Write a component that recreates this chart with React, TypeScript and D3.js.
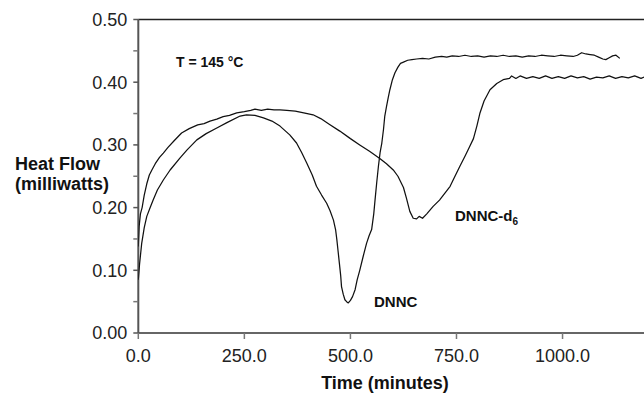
import * as d3 from "d3";

// DSC traces: [time (min), heat flow (mW)]
const dnnc: [number, number][] = [
  [0, 0.085], [3, 0.11], [8, 0.143], [14, 0.168], [20, 0.186], [28, 0.2], [35, 0.212],
  [45, 0.228], [59, 0.244], [75, 0.26], [98, 0.279], [115, 0.292], [138, 0.308],
  [160, 0.318], [185, 0.327], [210, 0.336], [240, 0.346], [255, 0.348], [275, 0.347],
  [295, 0.343], [315, 0.338], [334, 0.33], [357, 0.316], [373, 0.303], [385, 0.288],
  [397, 0.271], [410, 0.252], [420, 0.234], [432, 0.22], [444, 0.207], [452, 0.195],
  [460, 0.18], [465, 0.165], [468, 0.149], [471, 0.13], [474, 0.111], [477, 0.092],
  [479, 0.074], [483, 0.062], [487, 0.053], [491, 0.05], [495, 0.048], [500, 0.052],
  [505, 0.058], [511, 0.069], [516, 0.085], [522, 0.1], [530, 0.122], [538, 0.143],
  [544, 0.155], [550, 0.165], [555, 0.19], [558, 0.212], [562, 0.24], [566, 0.266],
  [570, 0.288], [574, 0.303], [578, 0.325], [581, 0.346], [585, 0.361], [589, 0.375],
  [593, 0.388], [599, 0.404], [605, 0.415], [612, 0.424], [618, 0.43], [625, 0.432],
  [635, 0.435], [645, 0.436], [656, 0.437], [670, 0.438], [685, 0.437], [700, 0.44],
  [715, 0.441], [727, 0.44], [740, 0.442], [755, 0.441], [770, 0.443], [785, 0.441],
  [800, 0.442], [815, 0.44], [830, 0.442], [845, 0.441], [860, 0.443], [875, 0.441],
  [890, 0.442], [905, 0.44], [920, 0.442], [935, 0.441], [950, 0.443], [965, 0.442],
  [980, 0.441], [995, 0.443], [1010, 0.442], [1025, 0.441], [1035, 0.443], [1045, 0.447],
  [1055, 0.445], [1065, 0.444], [1075, 0.443], [1085, 0.44], [1095, 0.437], [1102, 0.436],
  [1110, 0.439], [1118, 0.442], [1126, 0.443], [1135, 0.438],
];

const dnncD6: [number, number][] = [
  [0, 0.138], [2, 0.17], [5, 0.19], [9, 0.2], [14, 0.22], [20, 0.238], [26, 0.252],
  [32, 0.26], [40, 0.27], [50, 0.28], [59, 0.287], [70, 0.296], [85, 0.307], [102, 0.319],
  [120, 0.326], [140, 0.332], [155, 0.334], [169, 0.338], [185, 0.341], [200, 0.345],
  [215, 0.347], [232, 0.351], [250, 0.353], [265, 0.355], [275, 0.357], [290, 0.355],
  [305, 0.357], [320, 0.356], [334, 0.356], [350, 0.355], [370, 0.354], [390, 0.351],
  [412, 0.348], [430, 0.342], [450, 0.333], [475, 0.322], [500, 0.31], [522, 0.3],
  [545, 0.29], [570, 0.278], [585, 0.27], [601, 0.26], [612, 0.25], [625, 0.232],
  [632, 0.215], [640, 0.194], [648, 0.183], [656, 0.182], [662, 0.186], [670, 0.183],
  [680, 0.19], [695, 0.202], [710, 0.212], [725, 0.225], [735, 0.234], [745, 0.248],
  [758, 0.266], [770, 0.282], [780, 0.296], [790, 0.31], [798, 0.33], [805, 0.35],
  [815, 0.37], [829, 0.388], [845, 0.398], [860, 0.404], [875, 0.406], [880, 0.41],
  [890, 0.406], [900, 0.41], [915, 0.406], [930, 0.409], [945, 0.406], [960, 0.41],
  [975, 0.406], [990, 0.409], [1005, 0.406], [1020, 0.41], [1035, 0.407], [1050, 0.409],
  [1065, 0.405], [1080, 0.408], [1095, 0.407], [1110, 0.41], [1125, 0.406], [1140, 0.409],
  [1155, 0.407], [1170, 0.41], [1185, 0.406], [1195, 0.409],
];

const xTicks = [0, 250, 500, 750, 1000];
const yTicks = [0, 0.1, 0.2, 0.3, 0.4, 0.5];
const yMinor = [0.05, 0.15, 0.25, 0.35, 0.45];

const W = 644;
const H = 395;
const FONT = "'Liberation Sans', Arial, Helvetica, sans-serif";

export default function App() {
  const x = d3.scaleLinear().domain([0, 1192]).range([138.3, 644]);
  const y = d3.scaleLinear().domain([0, 0.5]).range([333, 19.5]);

  const line = d3
    .line<[number, number]>()
    .x((d) => x(d[0]))
    .y((d) => y(d[1]));

  const x0 = x(0);
  const y0 = y(0);

  return (
    <div style={{ position: "fixed", left: 0, top: 0 }}>
      <svg width={W} height={H} style={{ display: "block", background: "#fff" }} fontFamily={FONT}>
        <defs>
          <clipPath id="plot-clip">
            <rect x={x0} y={y(0.5)} width={W - x0} height={y0 - y(0.5)} />
          </clipPath>
        </defs>

        {/* frame */}
        <line x1={x0} x2={W} y1={y(0.5)} y2={y(0.5)} stroke="#222" strokeWidth={1.5} />
        <line x1={x0} x2={W} y1={y0} y2={y0} stroke="#333" strokeWidth={1.5} />
        <line x1={x0} x2={x0} y1={y(0.5)} y2={y0} stroke="#555" strokeWidth={2} />

        {/* y ticks */}
        {yTicks.map((t) => (
          <g key={t}>
            <line x1={x0 - 5} x2={x0} y1={y(t)} y2={y(t)} stroke="#555" strokeWidth={1.5} />
            <text
              x={x0 - 11}
              y={y(t)}
              dy="0.36em"
              textAnchor="end"
              fontSize={18}
              fill="#222"
            >
              {t.toFixed(2)}
            </text>
          </g>
        ))}
        {yMinor.map((t) => (
          <line key={t} x1={x0 - 5} x2={x0} y1={y(t)} y2={y(t)} stroke="#777" strokeWidth={1.5} />
        ))}

        {/* x ticks */}
        {xTicks.map((t) => (
          <g key={t}>
            <line x1={x(t)} x2={x(t)} y1={y0} y2={y0 + 6} stroke="#777" strokeWidth={1.5} />
            <text x={x(t)} y={362} textAnchor="middle" fontSize={18} fill="#222">
              {t.toFixed(1)}
            </text>
          </g>
        ))}

        {/* traces */}
        <g clipPath="url(#plot-clip)" fill="none" stroke="#111" strokeWidth={1.25} strokeLinejoin="round">
          <path d={line(dnncD6) ?? ""} />
          <path d={line(dnnc) ?? ""} />
        </g>

        {/* labels */}
        <text x={176} y={66.5} fontSize={14} fontWeight="bold" fill="#111">
          T = 145 °C
        </text>
        <text x={15} y={170} fontSize={18} fontWeight="bold" fill="#111">
          Heat Flow
        </text>
        <text x={15} y={189.5} fontSize={18} fontWeight="bold" fill="#111">
          (milliwatts)
        </text>
        <text x={385} y={389} textAnchor="middle" fontSize={18} fontWeight="bold" fill="#111">
          Time (minutes)
        </text>
        <text x={374} y={306.5} fontSize={15} fontWeight="bold" fill="#111">
          DNNC
        </text>
        <text x={455} y={220.5} fontSize={15} fontWeight="bold" fill="#111">
          DNNC-d
          <tspan fontSize={10} dy={4}>
            6
          </tspan>
        </text>
      </svg>
    </div>
  );
}
